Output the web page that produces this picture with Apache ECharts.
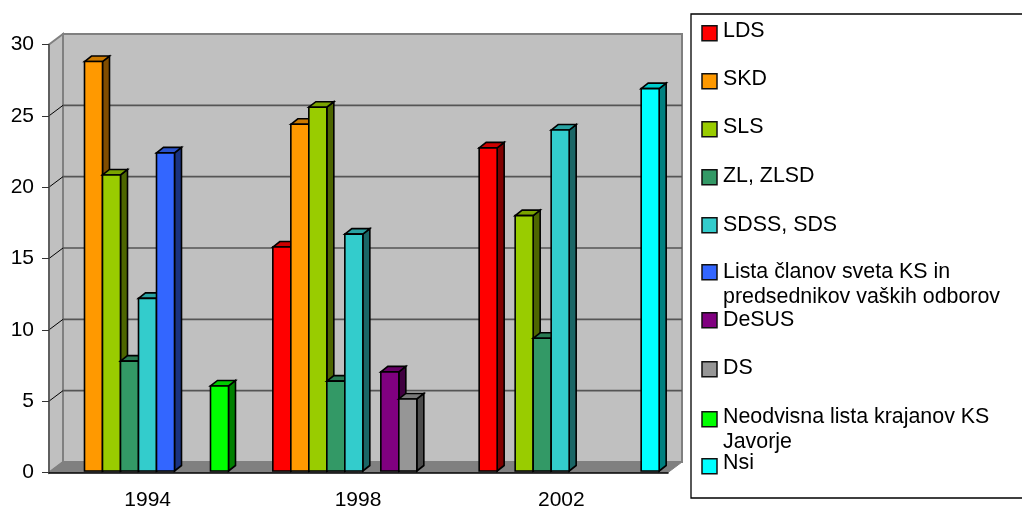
<!DOCTYPE html>
<html>
<head>
<meta charset="utf-8">
<style>
  html, body { margin: 0; padding: 0; background: #fff; }
  #chart { width: 1022px; height: 507px; }
</style>
<script src="https://cdn.jsdelivr.net/npm/echarts@6/dist/echarts.min.js"></script>
</head>
<body>
<div id="chart"></div>
<script>
  var years = ['1994', '1998', '2002']
  var yearLabelPad = [9, 1, 7]
  var yTicks = [0, 5, 10, 15, 20, 25, 30]

  var partyNames = ['LDS', 'SKD', 'SLS', 'ZL, ZLSD', 'SDSS, SDS',
    'Lista članov sveta KS in\npredsednikov vaških odborov', 'DeSUS', 'DS',
    'Neodvisna lista krajanov KS\nJavorje', 'Nsi']
  var partyColors = ['#ff0000', '#ff9900', '#99cc00', '#339966', '#33cccc',
    '#3366ff', '#800080', '#969696', '#00ff00', '#00ffff']

  var lds = [null, 15.7, 22.65]
  var skd = [28.7, 24.3, null]
  var sls = [20.75, 25.5, 17.9]
  var zl = [7.7, 6.3, 9.3]
  var sdss = [12.1, 16.6, 23.9]
  var lista = [22.3, null, null]
  var desus = [null, 6.95, null]
  var ds = [null, 5.05, null]
  var neodvisna = [5.96, null, null]
  var nsi = [null, null, 26.8]
  var partyValues = [lds, skd, sls, zl, sdss, lista, desus, ds, neodvisna, nsi]

  // 3d look
  var wallDx = 14, wallDy = -10.5    // front of the box to the back wall
  var barDx = 7, barDy = -5.5        // depth of one bar
  var barStep = 18, barStart = 17.5  // bars inside one category

  // legend rows are not evenly spaced in the original
  var swatchTops = [25, 73, 121, 169, 217, 264, 312, 361, 411, 458]
  var lineBaselines = [[36.7], [85], [133.3], [182], [230.7], [278.3, 302.7], [326], [374], [422.7, 448.3], [469]]

  // darken a #rrggbb colour for the top and side faces
  function shade(hex, k) {
    var n = parseInt(hex.slice(1), 16)
    var r = Math.round((n >> 16 & 255) * k)
    var g = Math.round((n >> 8 & 255) * k)
    var b = Math.round((n & 255) * k)
    return 'rgb(' + r + ',' + g + ',' + b + ')'
  }

  function poly(points, fill, stroke, width) {
    return {
      type: 'polygon',
      shape: { points: points },
      style: { fill: fill, stroke: stroke, lineWidth: width }
    }
  }

  // walls, floor and the grid lines on the back wall
  function renderWalls(params, api) {
    var cs = params.coordSys
    var l = cs.x, r = cs.x + cs.width, t = cs.y, b = cs.y + cs.height
    var dx = wallDx, dy = wallDy
    var children = [
      poly([[l + dx, t + dy], [r + dx, t + dy], [r + dx, b + dy], [l + dx, b + dy]], '#c0c0c0', '#808080', 2),
      poly([[l, t], [l + dx, t + dy], [l + dx, b + dy], [l, b]], '#c0c0c0', '#808080', 2),
      poly([[l, b], [l + dx, b + dy], [r + dx, b + dy], [r, b]], '#808080', '#808080', 1)
    ]
    yTicks.forEach(function (v) {
      var y = api.coord([0, v])[1]
      if (v > 0 && v < 30) {
        children.push({
          type: 'line',
          shape: { x1: l, y1: y, x2: l + dx, y2: y + dy },
          style: { stroke: '#000', lineWidth: 1 }
        })
        children.push({
          type: 'line',
          shape: { x1: l + dx, y1: y + dy, x2: r + dx, y2: y + dy },
          style: { stroke: '#555', lineWidth: 1.6 }
        })
      }
    })
    return { type: 'group', children: children }
  }

  function makeBarRenderer(index) {
    return function (params, api) {
      var val = api.value(1)
      if (isNaN(val)) return
      var cat = api.value(0)
      var mid = api.coord([cat, 0])
      var catWidth = api.size([1, 0])[0]
      var x = mid[0] - catWidth / 2 + barStart + index * barStep
      var w = barStep
      var base = mid[1] - 1.5
      var top = api.coord([cat, val])[1] - 1.5
      var color = partyColors[index]
      return {
        type: 'group',
        children: [
          poly([[x + w, top], [x + w + barDx, top + barDy], [x + w + barDx, base + barDy], [x + w, base]], shade(color, 0.5), '#000', 1.6),
          poly([[x, top], [x + barDx, top + barDy], [x + w + barDx, top + barDy], [x + w, top]], shade(color, 0.8), '#000', 1.6),
          poly([[x, top], [x + w, top], [x + w, base], [x, base]], color, '#000', 1.6)
        ]
      }
    }
  }

  var series = [{
    name: 'walls',
    type: 'custom',
    z: -1,
    silent: true,
    renderItem: renderWalls,
    clip: false,
    data: [[0, 0]]
  }]
  partyNames.forEach(function (name, i) {
    series.push({
      name: name,
      type: 'custom',
      renderItem: makeBarRenderer(i),
      clip: false,
      itemStyle: { color: partyColors[i] },
      data: partyValues[i].map(function (v, c) { return [c, v == null ? '-' : v] })
    })
  })

  // legend box
  var graphics = [{
    type: 'rect',
    shape: { x: 691, y: 14, width: 340, height: 484 },
    style: { fill: '#fff', stroke: '#000', lineWidth: 1.3 }
  }]
  partyNames.forEach(function (name, i) {
    graphics.push({
      type: 'rect',
      shape: { x: 702, y: swatchTops[i] + 0.7, width: 15, height: 15 },
      style: { fill: partyColors[i], stroke: '#111', lineWidth: 1.5 }
    })
    name.split('\n').forEach(function (line, k) {
      graphics.push({
        type: 'text',
        x: 723,
        y: lineBaselines[i][k] - 6,
        style: {
          text: line,
          fill: '#000',
          font: '21.4px "Liberation Sans"',
          textVerticalAlign: 'middle'
        }
      })
    })
  })

  var chart = echarts.init(document.getElementById('chart'))
  chart.setOption({
    animation: false,
    backgroundColor: '#fff',
    grid: { left: 49, right: 354, top: 44.5, bottom: 34.5, outerBoundsMode: 'none' },
    graphic: graphics,
    xAxis: {
      type: 'category',
      data: years.map(function (y, i) {
        return { value: y, textStyle: { padding: [0, yearLabelPad[i], 0, 0] } }
      }),
      axisLine: { lineStyle: { color: '#000', width: 1.5 } },
      axisTick: { length: 7, lineStyle: { color: '#555', width: 1.5 } },
      axisLabel: { color: '#000', fontFamily: 'Liberation Sans', fontSize: 21, margin: 17 }
    },
    yAxis: {
      type: 'value',
      min: 0,
      max: 30,
      interval: 5,
      splitLine: { show: false },
      axisLine: { show: true, lineStyle: { color: '#555', width: 1.5 } },
      axisTick: { show: true, length: 7, lineStyle: { color: '#333', width: 1 } },
      axisLabel: { color: '#000', fontFamily: 'Liberation Sans', fontSize: 21, margin: 15 }
    },
    series: series
  })
</script>
</body>
</html>
